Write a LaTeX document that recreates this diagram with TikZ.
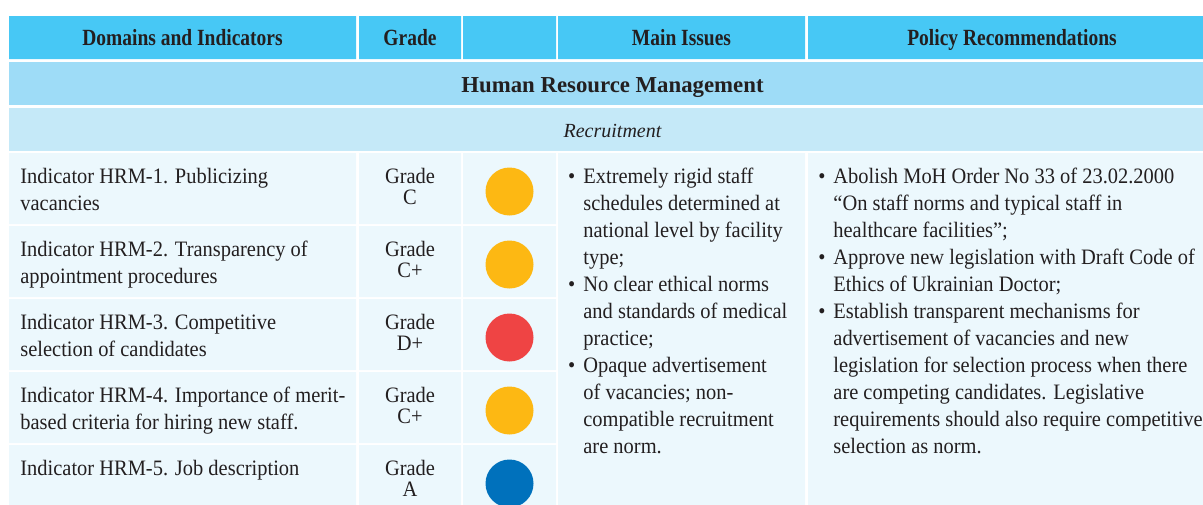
\documentclass[tikz,border=0pt]{standalone}
\usepackage{fontspec}
\setmainfont{Liberation Serif}
\newfontfamily\headfont[FakeStretch=0.84]{Liberation Serif}
\newfontfamily\bodyfont[FakeStretch=0.93,Ligatures=TeX]{Liberation Serif}
\definecolor{headblue}{RGB}{71,200,245}
\definecolor{hrmblue}{RGB}{158,220,247}
\definecolor{recblue}{RGB}{197,233,248}
\definecolor{cellblue}{RGB}{236,248,253}
\definecolor{ink}{RGB}{35,31,32}
\definecolor{amber}{RGB}{253,184,19}
\definecolor{alarm}{RGB}{239,68,68}
\definecolor{good}{RGB}{0,113,188}
\tikzset{
  headtxt/.style={font=\headfont\bfseries\fontsize{11.6}{13}\selectfont,text=ink,inner sep=0pt,anchor=base},
  celltxt/.style={font=\bodyfont\fontsize{11}{13.5}\selectfont,text=ink,inner sep=0pt,align=left,anchor=north west},
  gradetxt/.style={font=\bodyfont\fontsize{11}{10.5}\selectfont,text=ink,inner sep=0pt,align=center,anchor=north},
  dot/.style={circle,minimum size=24pt,inner sep=0pt}
}
\newcommand{\bul}{\llap{\textbullet\hspace{4pt}}}
\begin{document}
\begin{tikzpicture}[x=0.5pt,y=-0.5pt]
\path[use as bounding box,clip] (0,0) rectangle (1203,504);
% header
\fill[headblue] (9,16) rectangle (356,59) (359,16) rectangle (461,59) (463,16) rectangle (556,59)
  (558,16) rectangle (805,59) (808,16) rectangle (1216,59);
\node[headtxt] (hdom) at (182.5,45) {Domains and Indicators};
\node[headtxt] (hgrade) at (410,45) {Grade};
\node[headtxt] (hiss) at (681.5,45) {Main Issues};
\node[headtxt] (hpol) at (1012,45) {Policy Recommendations};
% domain and sub-domain
\fill[hrmblue] (9,62) rectangle (1216,105);
\fill[recblue] (9,108) rectangle (1216,151);
\node[text=ink,inner sep=0pt,anchor=base,font=\bfseries\fontsize{11.4}{13}\selectfont] (hrm) at (612.5,92) {Human Resource Management};
\node[text=ink,inner sep=0pt,anchor=base,font=\itshape\fontsize{10}{12}\selectfont] (recr) at (612.5,137) {Recruitment};
% indicator rows
\foreach \i/\ind/\gr/\col in {
  0/{Indicator HRM-1. Publicizing\\vacancies}/C/amber,
  1/{Indicator HRM-2. Transparency of\\appointment procedures}/C+/amber,
  2/{Indicator HRM-3. Competitive\\selection of candidates}/D+/alarm,
  3/{Indicator HRM-4. Importance of merit-\\based criteria for hiring new staff.}/C+/amber,
  4/{Indicator HRM-5. Job description}/A/good}{
  \pgfmathsetmacro{\top}{153+73*\i}
  \fill[cellblue] (9,\top) rectangle (356,\top+71) (359,\top) rectangle (461,\top+71)
    (463,\top) rectangle (556,\top+71);
  \node[celltxt] (ind\i) at (20,\top+15) {\ind};
  \node[gradetxt] (gr\i) at (410,\top+15) {Grade\\\gr};
  \node[dot,fill=\col] (dot\i) at (509.5,\top+38.5) {};
}
% issues and recommendations
\fill[cellblue] (558,153) rectangle (805,520) (808,153) rectangle (1216,520);
\node[celltxt] (issues) at (583,168) {\bul Extremely rigid staff\\schedules determined at\\national level by facility\\type;\\
  \bul No clear ethical norms\\and standards of medical\\practice;\\
  \bul Opaque advertisement\\of vacancies; non-\\compatible recruitment\\are norm.};
\node[celltxt] (policy) at (833,168) {\bul Abolish MoH Order No 33 of 23.02.2000\\“On staff norms and typical staff in\\healthcare facilities”;\\
  \bul Approve new legislation with Draft Code of\\Ethics of Ukrainian Doctor;\\
  \bul Establish transparent mechanisms for\\advertisement of vacancies and new\\legislation for selection process when there\\are competing candidates. Legislative\\requirements should also require competitive\\selection as norm.};
\end{tikzpicture}
\end{document}
